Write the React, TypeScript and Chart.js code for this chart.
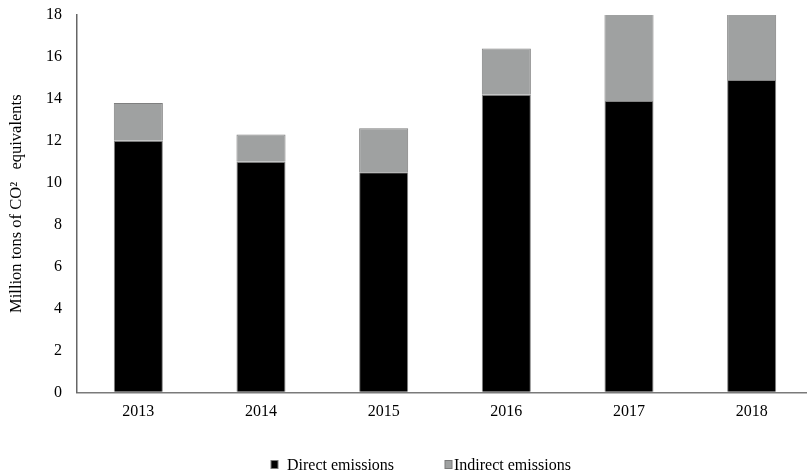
import React, { useEffect, useRef } from "react";
import { Chart, registerables } from "chart.js";

Chart.register(...registerables);

const categories = ["2013", "2014", "2015", "2016", "2017", "2018"];
const directEmissions = [12.0, 11.0, 10.5, 14.2, 13.9, 14.9];
const indirectEmissions = [1.8, 1.3, 2.1, 2.2, 4.6, 3.8];
const seriesLabels = ["Direct emissions", "Indirect emissions"];
const yAxisTitle = "Million tons of CO²   equivalents";

const FONT = '"Liberation Serif", "Times New Roman", serif';

const legendPlugin = {
  id: "fixedLegend",
  afterDraw(chart: any) {
    const ctx = chart.ctx;
    const boxes = [
      { bx: 271, tx: 287 },
      { bx: 445, tx: 454 },
    ];
    ctx.save();
    chart.data.datasets.forEach((ds: any, i: number) => {
      const p = boxes[i];
      if (!p) return;
      ctx.fillStyle = ds.backgroundColor;
      ctx.fillRect(p.bx, 460.5, 7, 8);
      ctx.strokeStyle = "#7a7a7a";
      ctx.lineWidth = 1;
      ctx.strokeRect(p.bx, 460.5, 7, 8);
      ctx.fillStyle = "#000";
      ctx.font = `16px ${FONT}`;
      ctx.textBaseline = "alphabetic";
      ctx.textAlign = "left";
      ctx.fillText(ds.label, p.tx, 470);
    });
    ctx.restore();
  },
};

export default function App() {
  const ref = useRef<HTMLCanvasElement | null>(null);

  useEffect(() => {
    document.body.style.margin = "0";
    if (!ref.current) return;
    const chart = new Chart(ref.current, {
      type: "bar",
      data: {
        labels: categories,
        datasets: [
          {
            label: seriesLabels[0],
            data: directEmissions,
            backgroundColor: "#000000",
            borderColor: "#858585",
            borderWidth: 1,
            borderSkipped: "bottom",
          },
          {
            label: seriesLabels[1],
            data: indirectEmissions,
            backgroundColor: "#9fa1a1",
            borderColor: "#7f7f7f",
            borderWidth: 1,
            borderSkipped: "bottom",
          },
        ],
      },
      options: {
        responsive: false,
        animation: false,
        devicePixelRatio: 1,
        layout: { padding: { top: 15, bottom: 42.5, left: 0, right: 0 } },
        datasets: {
          bar: { categoryPercentage: 1, barPercentage: 0.4 },
        },
        plugins: {
          legend: { display: false },
          tooltip: { enabled: false },
        },
        scales: {
          x: {
            stacked: true,
            grid: { display: true, drawOnChartArea: false, drawTicks: false },
            border: { display: true, color: "#7a7a7a", width: 1.5 },
            ticks: {
              color: "#000",
              padding: 10,
              font: { family: FONT, size: 16 },
              maxRotation: 0,
            },
          },
          y: {
            stacked: true,
            min: 0,
            max: 18,
            grid: { display: true, drawOnChartArea: false, drawTicks: false },
            border: { display: true, color: "#666666", width: 1.5 },
            ticks: {
              stepSize: 2,
              color: "#000",
              padding: 15,
              font: { family: FONT, size: 16 },
            },
            title: {
              display: true,
              text: yAxisTitle,
              color: "#000",
              font: { family: FONT, size: 16.5 },
              padding: { top: 7, bottom: 0 },
            },
            afterFit(axis: any) {
              axis.width = 77;
              axis.paddingTop = 0;
              axis.paddingBottom = 0;
            },
          },
        },
      },
      plugins: [legendPlugin],
    });
    return () => chart.destroy();
  }, []);

  return (
    <div style={{ width: 807, height: 474, overflow: "hidden", position: "relative", background: "#fff" }}>
      <canvas ref={ref} width={813} height={474} style={{ width: 813, height: 474, display: "block" }} />
    </div>
  );
}
